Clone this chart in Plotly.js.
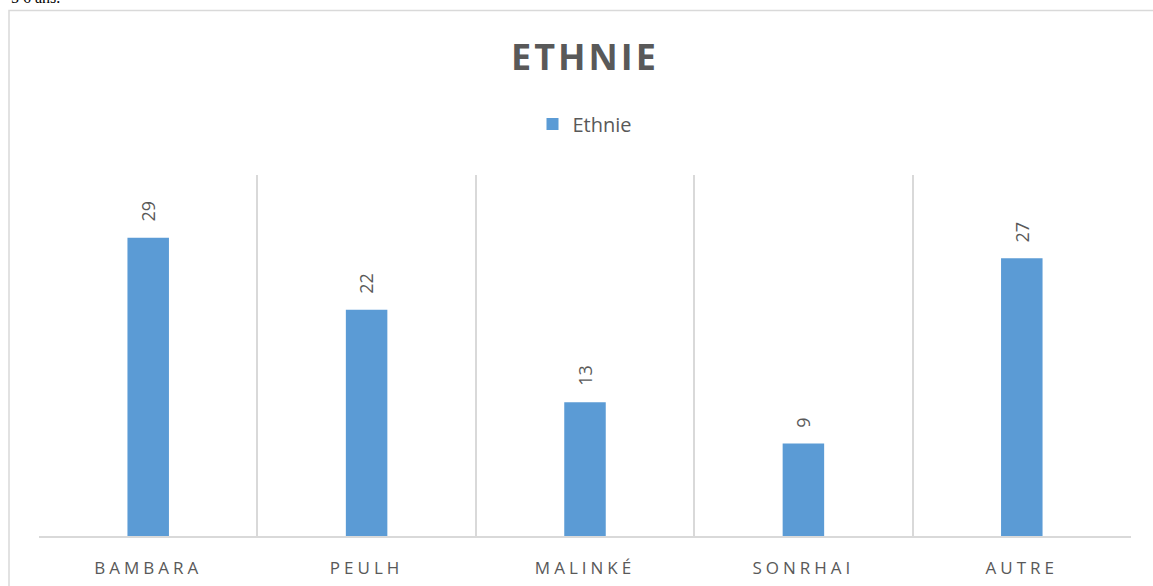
<!DOCTYPE html>
<html>
<head>
<meta charset="utf-8">
<script src="https://cdn.plot.ly/plotly-3.0.1.min.js"></script>
<style>
  html, body { margin: 0; padding: 0; background: #fff; }
  #chart { width: 1153px; height: 586px; }
  .xtick text { letter-spacing: 4px; }
  .gtitle { letter-spacing: 3px; }
</style>
</head>
<body>
<div id="chart"></div>
<script>
const categories = ["BAMBARA", "PEULH", "MALINKÉ", "SONRHAI", "AUTRE"];
const seriesName = "Ethnie";
const values = [29, 22, 13, 9, 27];
const chartTitle = "ETHNIE";
const headerFragment = "5 6 ans.";

const labelAnnotations = categories.map((c, i) => ({
  x: c, y: values[i], xref: "x", yref: "y",
  text: String(values[i]), showarrow: false,
  textangle: -90, yanchor: "bottom", xanchor: "center",
  yshift: 14,
  font: { family: "Open Sans", size: 18, color: "#595959" }
}));

const data = [{
  type: "bar",
  x: categories,
  y: values,
  name: seriesName,
  marker: { color: "#5b9bd5" },
  hoverinfo: "x+y"
}];

const layout = {
  width: 1153, height: 586,
  margin: { l: 39, r: 22, t: 175, b: 50 },
  paper_bgcolor: "#ffffff", plot_bgcolor: "#ffffff",
  bargap: 0.81,
  title: {
    text: "<b>" + chartTitle + "</b>",
    font: { family: "Open Sans", size: 36, color: "#595959" },
    x: 0.5, xanchor: "center", xref: "paper",
    y: 1 - 57 / 586, yanchor: "middle", yref: "container"
  },
  showlegend: true,
  legend: {
    orientation: "h", x: 0.5, xanchor: "center",
    y: 1 + (175 - 124) / 361, yanchor: "middle",
    font: { family: "Open Sans", size: 20, color: "#595959" },
    itemwidth: 30
  },
  xaxis: {
    type: "category",
    range: [-0.5, 4.5],
    showline: true, linecolor: "#d9d9d9", linewidth: 1.5,
    showgrid: true, gridcolor: "#d9d9d9", gridwidth: 1.5,
    tickson: "boundaries", ticks: "", ticklen: 0,
    ticklabelstandoff: 16,
    tickfont: { family: "Open Sans", size: 17, color: "#595959" },
    zeroline: false, fixedrange: true
  },
  yaxis: {
    range: [0, 35.1],
    showgrid: false, showline: false, zeroline: false,
    showticklabels: false, ticks: "", fixedrange: true
  },
  shapes: [{
    type: "rect", xref: "paper", yref: "paper",
    x0: (9 - 39) / 1092, x1: 1.2,
    y0: -0.3, y1: (536 - 10.5) / 361,
    line: { color: "#d9d9d9", width: 1.5 },
    fillcolor: "rgba(0,0,0,0)", layer: "below"
  }],
  annotations: labelAnnotations.concat([{
    xref: "paper", yref: "paper",
    x: (9 - 39) / 1092, y: (536 - 8) / 361,
    xanchor: "left", yanchor: "bottom",
    text: headerFragment, showarrow: false,
    font: { family: "Liberation Serif", size: 16, color: "#000000" }
  }])
};

Plotly.newPlot("chart", data, layout, { displayModeBar: false, staticPlot: false });
</script>
</body>
</html>
